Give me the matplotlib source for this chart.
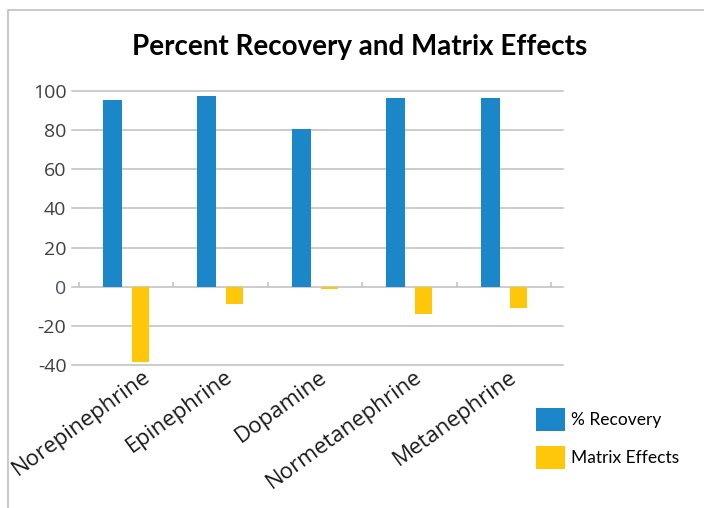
import matplotlib.pyplot as plt
from matplotlib.patches import Rectangle, Patch
from matplotlib.transforms import ScaledTranslation
import numpy as np

categories = ['Norepinephrine', 'Epinephrine', 'Dopamine', 'Normetanephrine', 'Metanephrine']
recovery = [95.4, 97.4, 80.6, 96.4, 96.4]
matrix_effects = [-38.6, -8.7, -1.0, -13.8, -10.7]
y_ticks = [-40, -20, 0, 20, 40, 60, 80, 100]

blue = '#1B87C9'
yellow = '#FFC709'
grid_gray = '#BFBFBF'

fig = plt.figure(figsize=(7.04, 5.08), dpi=100)
ax = fig.add_axes([72 / 704, 1 - 365 / 508, (563 - 72) / 704, (365 - 91) / 508])

x = np.arange(len(categories))
ax.bar(x - 0.145, recovery, width=0.2, color=blue, zorder=3)
ax.bar(x + 0.152, matrix_effects, width=0.18, color=yellow, zorder=3)

ax.set_xlim(-0.571, 4.624)
ax.set_ylim(-40, 100)

# gridlines and category tick marks on the zero line
for v in y_ticks:
    ax.axhline(v, color=grid_gray, lw=1.1, zorder=1, clip_on=False)
ax.vlines(np.arange(-0.5, len(categories), 1.0), 0, 2.2, color=grid_gray, lw=1.1, zorder=2)

for s in ax.spines.values():
    s.set_visible(False)
ax.tick_params(axis='both', length=0)
ax.set_yticks(y_ticks)
ax.set_yticklabels([str(v) for v in y_ticks], fontsize=14, color='#404040',
                   family='Open Sans')
ax.tick_params(axis='y', pad=4)
ax.get_yticklabels()[2].set_color('#44546A')

ax.set_xticks(x)
ax.set_xticklabels(categories, rotation=36, ha='right', va='top',
                   rotation_mode='anchor', fontsize=16, color='#1a1a1a',
                   family='Open Sans')
ax.tick_params(axis='x', pad=1)
for i, lab in enumerate(ax.get_xticklabels()):
    dx = 16 if i == 0 else 4
    lab.set_transform(lab.get_transform() + ScaledTranslation(dx / 100, 0, fig.dpi_scale_trans))

fig.text(360 / 704, 1 - 47 / 508, 'Percent Recovery and Matrix Effects',
         ha='center', va='center', fontsize=20, family='Lato', weight='bold', color='black')

handles = [Patch(facecolor=blue, edgecolor='none'), Patch(facecolor=yellow, edgecolor='none')]
fig.legend(handles, ['% Recovery', 'Matrix Effects'], loc='upper left',
           bbox_to_anchor=(522 / 704, 1 - 394 / 508), frameon=False,
           prop={'family': 'Lato', 'size': 12.5}, handlelength=1.65, handleheight=1.65,
           handletextpad=0.35, labelspacing=0.9, borderpad=0.3)

# outer chart border
fig.patches.append(Rectangle((8 / 704, -0.1), 1.1, 1 - 10 / 508 + 0.1, transform=fig.transFigure,
                             fill=False, edgecolor='#BFBFBF', lw=1.2))

fig.savefig('out.png', dpi=100)
